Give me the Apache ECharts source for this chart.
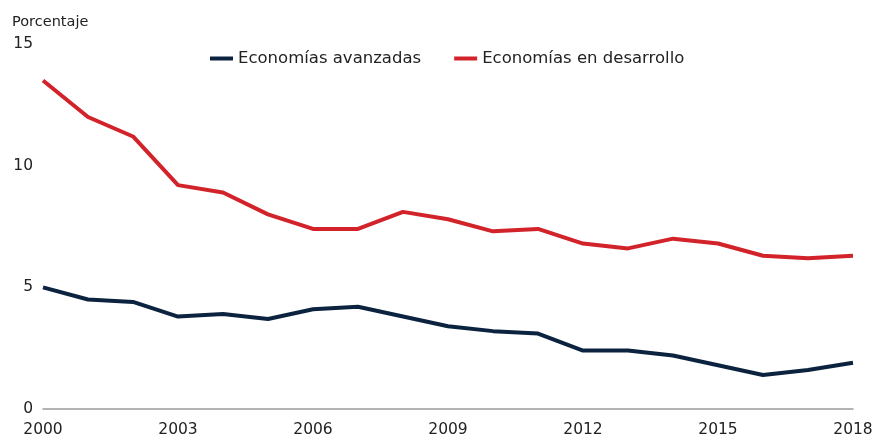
<!DOCTYPE html>
<html><head><meta charset="utf-8">
<script src="https://cdn.jsdelivr.net/npm/echarts@6/dist/echarts.min.js"></script>
<style>html,body{margin:0;padding:0;background:#fff}#c{width:877px;height:438px}</style>
</head><body><div id="c"></div>
<script>
const years = ['2000','2001','2002','2003','2004','2005','2006','2007','2008','2009','2010','2011','2012','2013','2014','2015','2016','2017','2018'];
const avanzadas = [5.0,4.5,4.4,3.8,3.9,3.7,4.1,4.2,3.8,3.4,3.2,3.1,2.4,2.4,2.2,1.8,1.4,1.6,1.9];
const desarrollo = [13.5,12.0,11.2,9.2,8.9,8.0,7.4,7.4,8.1,7.8,7.3,7.4,6.8,6.6,7.0,6.8,6.3,6.2,6.3];
const yTicks = [0,5,10,15];
const font = 'DejaVu Sans';
const chart = echarts.init(document.getElementById('c'), null, {renderer:'canvas'});
chart.setOption({
  animation:false,
  textStyle:{fontFamily:font},
  title:{text:'Porcentaje', left:7, top:10, textStyle:{fontFamily:font, fontSize:14.5, fontWeight:'normal', color:'#222'}},
  legend:{
    top:45, left:205, itemWidth:23, itemHeight:4, itemGap:33, icon:'rect',
    textStyle:{fontFamily:font, fontSize:16.5, color:'#222'},
    data:['Economías avanzadas','Economías en desarrollo']
  },
  grid:{left:43, right:24, top:44, bottom:28, containLabel:false},
  xAxis:{
    type:'category', data:years, boundaryGap:false,
    axisLine:{show:true, lineStyle:{color:'#9a9a9a', width:1.5}},
    axisTick:{show:false},
    axisLabel:{interval:2, fontFamily:font, fontSize:15.5, color:'#222', margin:13}
  },
  yAxis:{
    type:'value', min:yTicks[0], max:yTicks[yTicks.length-1], interval:5,
    axisLine:{show:false}, axisTick:{show:false}, splitLine:{show:false},
    axisLabel:{fontFamily:font, fontSize:15.5, color:'#222', margin:10}
  },
  series:[
    {name:'Economías avanzadas', type:'line', data:avanzadas, symbol:'none', lineStyle:{color:'#0c2340', width:4}, itemStyle:{color:'#0c2340'}},
    {name:'Economías en desarrollo', type:'line', data:desarrollo, symbol:'none', lineStyle:{color:'#d2232a', width:4}, itemStyle:{color:'#d2232a'}}
  ]
});
</script></body></html>
